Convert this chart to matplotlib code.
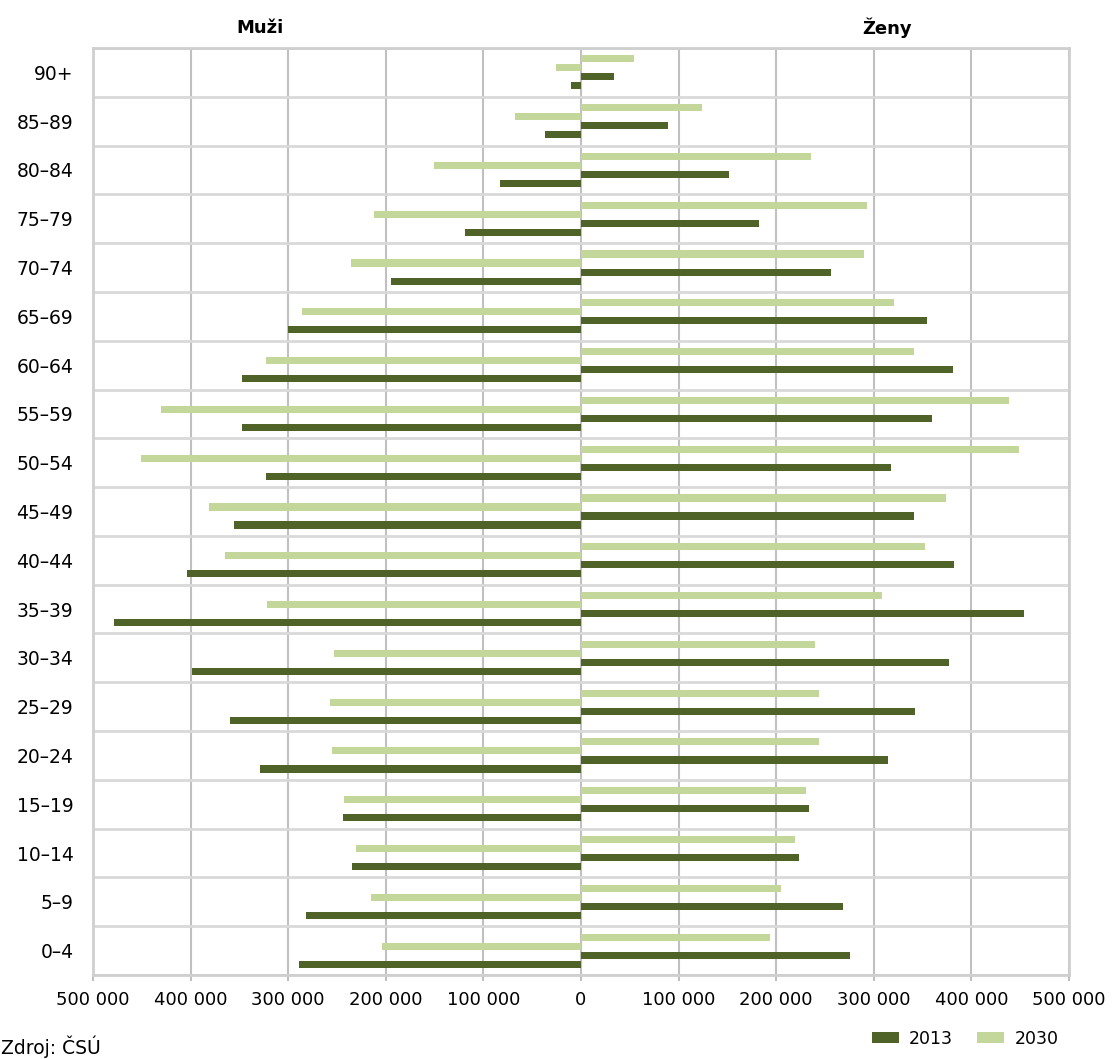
import matplotlib
matplotlib.use('Agg')
import matplotlib.pyplot as plt
import numpy as np

# věkové skupiny (zdola nahoru)
ages = ['0–4', '5–9', '10–14', '15–19', '20–24', '25–29', '30–34', '35–39', '40–44',
        '45–49', '50–54', '55–59', '60–64', '65–69', '70–74', '75–79', '80–84', '85–89', '90+']

# muži (kladné hodnoty, kreslí se doleva)
muzi_2013 = [289000, 282000, 235000, 244000, 329000, 360000, 399000, 478000, 404000,
             356000, 323000, 347000, 347000, 300000, 195000, 119000, 83000, 37000, 10000]
muzi_2030 = [204000, 215000, 230000, 243000, 255000, 257000, 253000, 322000, 365000,
             381000, 451000, 430000, 323000, 286000, 236000, 212000, 151000, 68000, 26000]

# ženy
zeny_2013 = [276000, 268000, 223000, 234000, 315000, 342000, 377000, 454000, 382000,
             341000, 318000, 360000, 381000, 355000, 256000, 182000, 152000, 89000, 34000]
zeny_2030 = [194000, 205000, 219000, 231000, 244000, 244000, 240000, 308000, 353000,
             374000, 449000, 439000, 341000, 321000, 290000, 293000, 236000, 124000, 54000]

dark = '#4f6228'
light = '#c4d79b'

fig = plt.figure(figsize=(11.12, 10.59), dpi=100)
ax = fig.add_axes([0.0836, 0.0793, 0.8777, 0.8754])

y = np.arange(len(ages))
h = 0.145
ax.barh(y + 0.277, zeny_2030, height=h, color=light, zorder=3)
ax.barh(y + 0.0925, -np.array(muzi_2030), height=h, color=light, zorder=3, label='2030')
ax.barh(y - 0.0925, zeny_2013, height=h, color=dark, zorder=3)
ax.barh(y - 0.277, -np.array(muzi_2013), height=h, color=dark, zorder=3, label='2013')

ax.set_xlim(-500000, 500000)
ax.set_ylim(-0.5, len(ages) - 0.5)

xt = np.arange(-500000, 500001, 100000)
ax.set_xticks(xt)
ax.set_xticklabels(['{:,}'.format(abs(v)).replace(',', ' ') for v in xt], fontsize=13)
ax.set_yticks(y)
ax.set_yticklabels(ages, fontsize=13.5)
ax.tick_params(axis='y', length=0, pad=14)
ax.tick_params(axis='x', length=4.5, color='#bfbfbf', width=1.5, pad=7)

# mřížka
ax.set_yticks(np.arange(-0.5, len(ages), 1), minor=True)
ax.tick_params(axis='y', which='minor', length=0)
ax.grid(axis='x', which='major', color='#c0c0c0', linewidth=1.5, zorder=0)
ax.grid(axis='y', which='minor', color='#d9d9d9', linewidth=2, zorder=0)
for s in ax.spines.values():
    s.set_color('#cfcfcf')
    s.set_linewidth(2)

fig.text(0.234, 0.974, 'Muži', fontsize=13, fontweight='bold', ha='center', va='center')
fig.text(0.798, 0.974, 'Ženy', fontsize=13, fontweight='bold', ha='center', va='center')
fig.text(0.001, 0.012, 'Zdroj: ČSÚ', fontsize=13.5, ha='left', va='center')

handles, labels = ax.get_legend_handles_labels()
fig.legend(handles[::-1], labels[::-1], loc='center', bbox_to_anchor=(0.868, 0.019), ncol=2,
           frameon=False, fontsize=12.5, handlelength=1.55, handleheight=0.6,
           handletextpad=0.6, columnspacing=1.4)

fig.savefig('out.png', dpi=100)
